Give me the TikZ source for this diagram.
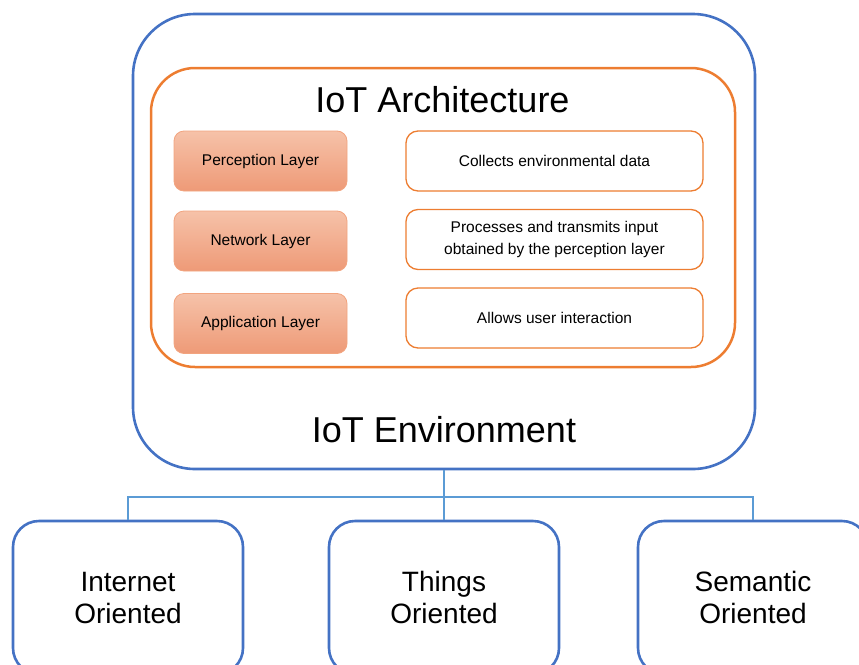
\documentclass[tikz,border=0pt]{standalone}
\usepackage{fontspec}
\setmainfont{Liberation Sans}
\usepackage{tikz}
\usetikzlibrary{positioning,calc}

\definecolor{envblue}{HTML}{4472C4}
\definecolor{linkblue}{HTML}{5B9BD5}
\definecolor{archorange}{HTML}{ED7D31}
\definecolor{layertop}{HTML}{F6C2A9}
\definecolor{layerbot}{HTML}{EE9A77}
\definecolor{layerline}{HTML}{F2A47F}

\begin{document}
\begin{tikzpicture}[
        x=1pt,y=-1pt,
        envbox/.style={rectangle,draw=envblue,line width=2.6pt,rounded corners=62pt,minimum width=622pt,minimum height=455pt},
        archbox/.style={rectangle,draw=archorange,line width=2.5pt,rounded corners=44pt,minimum width=584pt,minimum height=299pt},
        layerbox/.style={rectangle,draw=layerline,line width=0.8pt,rounded corners=10pt,top color=layertop,bottom color=layerbot,minimum width=173pt,minimum height=60pt,font=\fontsize{15.5}{22}\selectfont},
        descbox/.style={rectangle,draw=archorange,line width=1.3pt,rounded corners=12pt,fill=white,minimum width=297pt,minimum height=60pt,align=center,font=\fontsize{15.5}{22}\selectfont},
        kindbox/.style={rectangle,draw=envblue,line width=2.6pt,rounded corners=26pt,minimum width=230pt,minimum height=153pt,align=center,font=\fontsize{28}{32}\selectfont},
        title/.style={anchor=base,font=\fontsize{36}{40}\selectfont},
        link/.style={draw=linkblue,line width=1.4pt},
    ]
    \useasboundingbox (0,0) rectangle (859,664);
    \clip (0,0) rectangle (859,664);

    % === IoT Environment ===
    \node[envbox] (env) at (444,241.5) {};
    \node[title] (envtitle) at (444,442) {IoT Environment};

    % === IoT Architecture ===
    \node[archbox] (arch) at (443,217.5) {};
    \node[title] (archtitle) at (442.5,112) {IoT Architecture};

    \node[layerbox] (perc) at (260.5,161) {Perception Layer};
    \node[layerbox] (netw) at (260.5,241) {Network Layer};
    \node[layerbox] (appl) at (260.5,323.5) {Application Layer};

    \node[descbox] (perctxt) at (554.5,161) {Collects environmental data};
    \node[descbox] (netwtxt) at (554.5,239.5) {Processes and transmits input\\obtained by the perception layer};
    \node[descbox] (appltxt) at (554.5,318) {Allows user interaction};

    % === orientations ===
    \node[kindbox] (inet) at (128,597.5) {Internet\\Oriented};
    \node[kindbox] (thing) at (444,597.5) {Things\\Oriented};
    \node[kindbox] (sem) at (753,597.5) {Semantic\\Oriented};

    \coordinate (bus) at (444,497);
    \draw[link] (env.south) -- (thing.north);
    \draw[link] (inet.north) |- (bus) -| (sem.north);
\end{tikzpicture}
\end{document}
